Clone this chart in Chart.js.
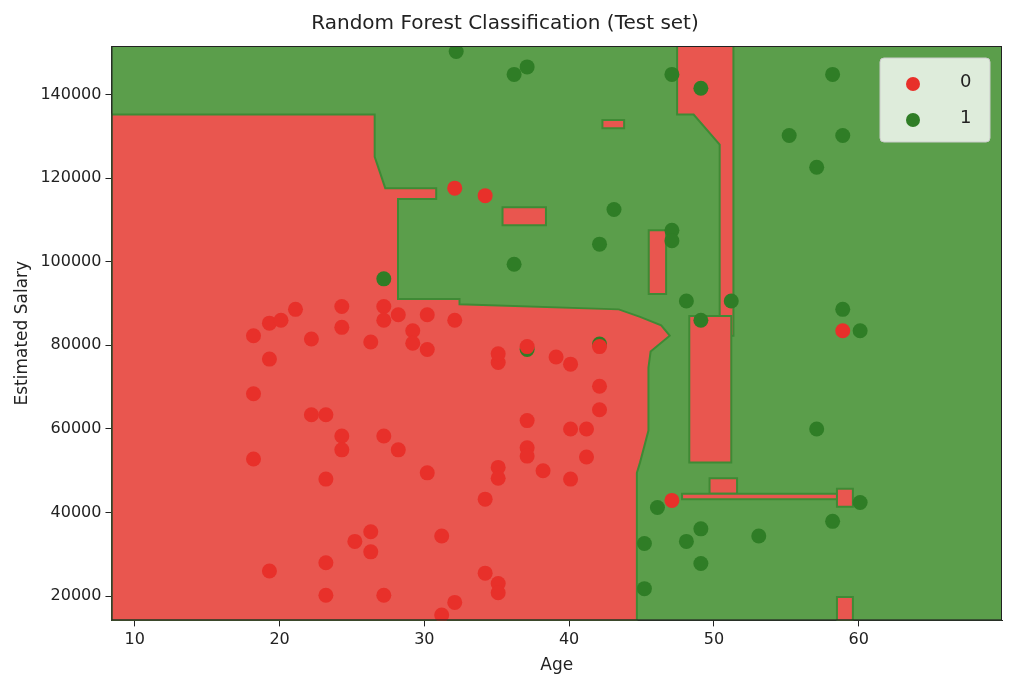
<!DOCTYPE html>
<html><head><meta charset="utf-8">
<script src="https://cdn.jsdelivr.net/npm/chart.js@4/dist/chart.umd.min.js"></script>
<style>html,body{margin:0;background:#fff}#w{width:1012px;height:690px}</style>
</head><body><div id="w"><canvas id="c"></canvas></div>
<script>
const redPoints=[[18.2,82300],[18.2,68400],[18.2,52800],[19.3,85300],[19.3,76700],[19.3,26000],[20.1,86000],[21.1,88600],[22.2,81500],[22.2,63400],[23.2,63400],[23.2,48000],[23.2,28000],[23.2,20200],[24.3,89300],[24.3,84300],[24.3,58300],[24.3,55000],[25.2,33100],[26.3,80800],[26.3,35400],[26.3,30600],[27.2,89300],[27.2,86000],[27.2,58300],[27.2,20200],[28.2,87300],[28.2,55000],[29.2,83500],[29.2,80500],[30.2,87300],[30.2,79000],[30.2,49500],[31.2,34400],[31.2,15500],[32.1,86000],[32.1,18500],[32.1,117600],[34.2,115800],[34.2,43200],[34.2,25500],[35.1,75900],[35.1,78000],[35.1,50800],[35.1,48200],[35.1,23000],[35.1,20800],[37.1,79700],[37.1,62000],[37.1,55500],[37.1,53500],[38.2,50000],[39.1,77200],[40.1,75500],[40.1,60000],[40.1,48000],[41.2,60000],[41.2,53300],[42.1,70200],[42.1,64600],[42.1,79700],[47.1,42900],[58.9,83500]];
const greenPoints=[[32.2,150300],[36.2,144800],[37.1,146600],[47.1,144800],[49.1,141500],[43.1,112500],[42.1,104200],[36.2,99400],[47.1,107500],[47.1,105000],[27.2,95900],[37.1,79000],[42.1,80300],[48.1,90600],[49.1,86000],[51.2,90600],[55.2,130200],[57.1,122600],[58.9,130200],[58.2,144800],[58.9,88600],[60.1,83500],[57.1,60000],[46.1,41200],[45.2,32600],[48.1,33100],[49.1,36100],[49.1,27800],[53.1,34400],[58.2,37900],[60.1,42400],[45.2,21800]];
const redRegions=[
 [[8.39,135200],[26.57,135200],[26.57,125100],[26.94,121300],[27.3,117600],[30.82,117600],[30.82,115000],[28.18,115000],[28.18,91100],[32.43,91100],[32.43,89800],[43.43,88600],[44.9,86800],[46.36,84800],[46.95,82300],[45.63,78500],[45.48,74700],[45.48,59600],[44.9,52000],[44.68,49500],[44.68,14200],[8.39,14200]],
 [[47.46,151600],[51.35,151600],[51.35,82300],[50.4,82300],[50.4,128000],[48.6,135200],[47.46,135200]],
 [[48.3,87000],[51.2,87000],[51.2,52000],[48.3,52000]],
 [[45.5,107500],[46.7,107500],[46.7,92300],[45.5,92300]],
 [[49.7,48200],[51.6,48200],[51.6,44500],[49.7,44500]],
 [[47.8,44500],[58.8,44500],[58.8,43200],[47.8,43200]],
 [[58.5,45700],[59.6,45700],[59.6,41400],[58.5,41400]],
 [[58.5,19800],[59.6,19800],[59.6,14200],[58.5,14200]],
 [[35.4,113000],[38.4,113000],[38.4,108700],[35.4,108700]],
 [[42.3,133900],[43.8,133900],[43.8,131900],[42.3,131900]]
];
const xTicks=[10,20,30,40,50,60];
const yTicks=[20000,40000,60000,80000,100000,120000,140000];
const legendLabels=['0','1'];
const legendColors=['#e8302a','#2f7d26'];
const regionPlugin={id:'regions',
 beforeDatasetsDraw(ch){
  const {ctx,chartArea:a,scales:{x,y}}=ch;
  ctx.save();ctx.beginPath();ctx.rect(a.left,a.top,a.width,a.height);ctx.clip();
  ctx.fillStyle='#5b9e4b';ctx.fillRect(a.left,a.top,a.width,a.height);
  ctx.fillStyle='#e9564f';ctx.strokeStyle='#3f8a35';ctx.lineWidth=2;
  redRegions.forEach(p=>{ctx.beginPath();p.forEach((q,i)=>{const px=x.getPixelForValue(q[0]),py=y.getPixelForValue(q[1]);i?ctx.lineTo(px,py):ctx.moveTo(px,py);});ctx.closePath();ctx.fill();ctx.stroke();});
  ctx.restore();
 },
 afterDraw(ch){
  const {ctx,chartArea:a}=ch;
  ctx.save();
  ctx.strokeStyle='#222';ctx.lineWidth=1;ctx.strokeRect(a.left+0.5,a.top+0.5,a.width-1,a.height-1);
  const bx=a.right-122,by=a.top+12,bw=110,bh=84;
  ctx.fillStyle='rgba(255,255,255,0.8)';ctx.strokeStyle='#ccc';
  ctx.beginPath();ctx.roundRect(bx,by,bw,bh,4);ctx.fill();ctx.stroke();
  ctx.font='18px "DejaVu Sans"';ctx.textBaseline='middle';
  legendLabels.forEach((l,i)=>{const cy=by+24+i*36;ctx.fillStyle=legendColors[i];ctx.beginPath();ctx.arc(bx+33,cy+2,7,0,Math.PI*2);ctx.fill();ctx.fillStyle='#222';ctx.fillText(l,bx+80,cy);});
  ctx.restore();
 }};
const toXY=a=>a.map(p=>({x:p[0],y:p[1]}));
const fnt={family:'DejaVu Sans',size:16};
new Chart(document.getElementById('c'),{type:'scatter',
 data:{datasets:[
  {label:'0',data:toXY(redPoints),backgroundColor:'#e8302a',borderWidth:0,pointRadius:7.5},
  {label:'1',data:toXY(greenPoints),backgroundColor:'#2f7d26',borderWidth:0,pointRadius:7.5}]},
 options:{responsive:true,maintainAspectRatio:false,animation:false,
  layout:{padding:{left:8,right:10,top:12,bottom:10}},
  plugins:{title:{display:true,text:'Random Forest Classification (Test set)',font:{family:'DejaVu Sans',size:20,weight:'normal'},color:'#222',padding:{top:0,bottom:10}},
   legend:{display:false},tooltip:{enabled:false}},
  scales:{
   x:{min:8.39,max:69.9,afterBuildTicks:s=>{s.ticks=xTicks.map(v=>({value:v}))},grid:{drawOnChartArea:false,drawTicks:true,tickLength:6,color:'#222'},border:{color:'#222'},ticks:{color:'#222',font:fnt,padding:4,callback:v=>String(v)},title:{display:true,text:'Age',font:{family:'DejaVu Sans',size:17},color:'#222',padding:{top:2}}},
   y:{min:14200,max:151600,afterBuildTicks:s=>{s.ticks=yTicks.map(v=>({value:v}))},grid:{drawOnChartArea:false,drawTicks:true,tickLength:6,color:'#222'},border:{color:'#222'},ticks:{color:'#222',font:fnt,padding:4,callback:v=>String(v)},title:{display:true,text:'Estimated Salary',font:{family:'DejaVu Sans',size:17},color:'#222'}}
  }},
 plugins:[regionPlugin]});
</script></body></html>
